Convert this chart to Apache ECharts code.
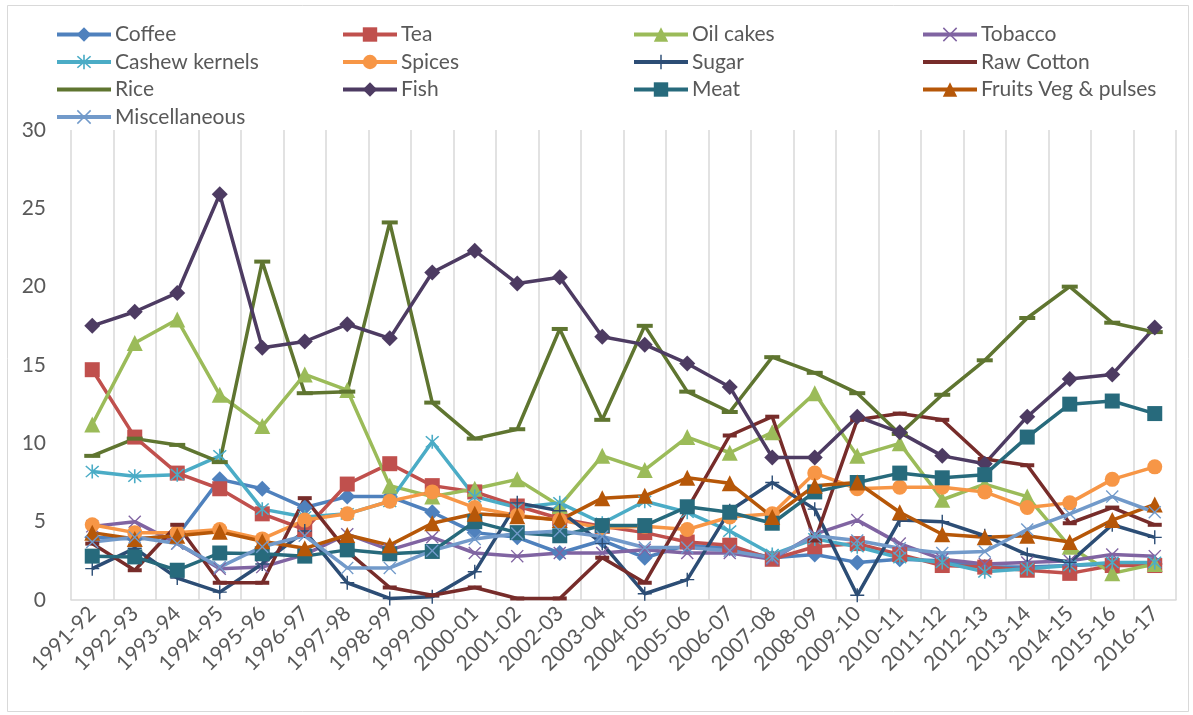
<!DOCTYPE html>
<html>
<head>
<meta charset="utf-8">
<script src="https://cdn.jsdelivr.net/npm/echarts@6/dist/echarts.min.js"></script>
<style>
  html, body { margin: 0; padding: 0; background: #fff; }
  #main { width: 1193px; height: 715px; }
</style>
</head>
<body>
<div id="main"></div>
<script>
// categories
let years = ["1991-92", "1992-93", "1993-94", "1994-95", "1995-96", "1996-97", "1997-98",
    "1998-99", "1999-00", "2000-01", "2001-02", "2002-03", "2003-04", "2004-05", "2005-06",
    "2006-07", "2007-08", "2008-09", "2009-10", "2010-11", "2011-12", "2012-13", "2013-14",
    "2014-15", "2015-16", "2016-17"];

// series values
let coffee = [4.0, 3.9, 4.1, 7.7, 7.1, 5.9, 6.6, 6.6, 5.6, 4.3, 4.0, 3.0, 3.8, 2.7, 3.5, 3.3, 2.7, 2.9, 2.4, 2.6, 2.5, 2.1, 2.1, 2.2, 2.3, 2.3];
let tea = [14.7, 10.4, 8.1, 7.1, 5.5, 4.5, 7.4, 8.7, 7.3, 6.9, 6.0, 5.2, 4.7, 4.3, 3.7, 3.5, 2.6, 3.4, 3.6, 2.9, 2.2, 2.1, 1.9, 1.7, 2.2, 2.2];
let oilCakes = [11.2, 16.4, 17.9, 13.1, 11.1, 14.4, 13.4, 7.3, 6.6, 7.1, 7.7, 6.0, 9.2, 8.3, 10.4, 9.4, 10.7, 13.2, 9.2, 10.0, 6.4, 7.4, 6.6, 3.4, 1.7, 2.3];
let tobacco = [4.7, 5.0, 3.6, 2.0, 2.1, 2.9, 4.2, 3.2, 4.0, 3.0, 2.8, 3.0, 3.0, 3.2, 3.0, 3.0, 2.6, 4.2, 5.1, 3.6, 2.6, 2.3, 2.4, 2.5, 2.9, 2.8];
let cashew = [8.2, 7.9, 8.0, 9.2, 5.8, 5.3, 5.5, 6.3, 10.1, 6.6, 5.9, 6.2, 4.9, 6.3, 5.6, 4.4, 2.9, 3.9, 3.4, 2.7, 2.4, 1.8, 2.0, 2.2, 2.4, 2.4];
let spices = [4.8, 4.3, 4.3, 4.5, 3.9, 5.1, 5.5, 6.3, 6.9, 5.9, 5.4, 5.1, 4.6, 4.7, 4.5, 5.3, 5.5, 8.1, 7.1, 7.2, 7.2, 6.9, 5.9, 6.2, 7.7, 8.5];
let sugar = [2.0, 3.3, 1.4, 0.5, 2.3, 4.4, 1.1, 0.1, 0.2, 1.8, 6.2, 5.7, 3.6, 0.4, 1.3, 5.7, 7.5, 5.8, 0.3, 5.1, 5.0, 4.1, 2.9, 2.4, 4.8, 4.0];
let rawCotton = [3.6, 1.9, 4.8, 1.1, 1.1, 6.5, 3.1, 0.8, 0.3, 0.8, 0.1, 0.1, 2.7, 1.1, 5.8, 10.5, 11.7, 3.8, 11.5, 11.9, 11.5, 9.0, 8.6, 4.9, 5.9, 4.8];
let rice = [9.2, 10.3, 9.9, 8.8, 21.6, 13.2, 13.3, 24.1, 12.6, 10.3, 10.9, 17.3, 11.5, 17.5, 13.3, 12.0, 15.5, 14.5, 13.2, 10.6, 13.1, 15.3, 18.0, 20.0, 17.7, 17.1];
let fish = [17.5, 18.4, 19.6, 25.9, 16.1, 16.5, 17.6, 16.7, 20.9, 22.3, 20.2, 20.6, 16.8, 16.3, 15.1, 13.6, 9.1, 9.1, 11.7, 10.7, 9.2, 8.7, 11.7, 14.1, 14.4, 17.4];
let meat = [2.8, 2.75, 1.9, 3.0, 2.95, 2.8, 3.2, 2.95, 3.1, 5.0, 4.3, 4.1, 4.75, 4.75, 5.95, 5.6, 4.9, 6.9, 7.5, 8.1, 7.8, 8.0, 10.4, 12.5, 12.7, 11.9];
let fruits = [4.3, 3.9, 4.1, 4.35, 3.75, 3.3, 4.15, 3.5, 4.9, 5.5, 5.35, 5.1, 6.5, 6.65, 7.8, 7.45, 5.3, 7.3, 7.5, 5.6, 4.2, 4.0, 4.1, 3.7, 5.1, 6.1];
let misc = [3.7, 4.0, 3.6, 2.1, 3.4, 4.1, 2.05, 2.05, 3.15, 3.9, 4.25, 4.4, 4.05, 3.35, 3.35, 3.15, 2.7, 4.1, 3.8, 3.3, 3.0, 3.1, 4.5, 5.5, 6.6, 5.6];

// excel-like marker shapes
let xMark = "path://M0,1.5L1.5,0L10,8.5L18.5,0L20,1.5L11.5,10L20,18.5L18.5,20L10,11.5L1.5,20L0,18.5L8.5,10Z";
let plusMark = "path://M9,0L11,0L11,9L20,9L20,11L11,11L11,20L9,20L9,11L0,11L0,9L9,9Z";
let starMark = "path://M9,0L11,0L11,20L9,20Z M2.7,1.3L18.7,17.3L17.3,18.7L1.3,2.7Z M18.7,2.7L2.7,18.7L1.3,17.3L17.3,1.3Z";
let barIcon = "path://M0,0L54,0L54,4L0,4Z";

let font = "Lato";
let gray = "#595959";

function makeSeries(name, data, color, symbol, size) {
    return {
        name: name,
        type: "line",
        data: data,
        symbol: symbol,
        symbolSize: size,
        showAllSymbol: true,
        lineStyle: { width: 3.5, color: color },
        itemStyle: { color: color, borderColor: color, borderWidth: 0 },
        emphasis: { disabled: true }
    };
}

let series = [
    makeSeries("Coffee", coffee, "#4F81BD", "diamond", 16),
    makeSeries("Tea", tea, "#C0504D", "rect", 15),
    makeSeries("Oil cakes", oilCakes, "#9BBB59", "triangle", 16),
    makeSeries("Tobacco", tobacco, "#8064A2", xMark, 13),
    makeSeries("Cashew kernels", cashew, "#4BACC6", starMark, 14),
    makeSeries("Spices", spices, "#F79646", "circle", 15),
    makeSeries("Sugar", sugar, "#2C4D75", plusMark, 14),
    makeSeries("Raw Cotton", rawCotton, "#772C2A", "rect", [14, 4]),
    makeSeries("Rice", rice, "#5F7530", "rect", [16, 4]),
    makeSeries("Fish", fish, "#4D3B62", "diamond", 16),
    makeSeries("Meat", meat, "#276A7C", "rect", 15),
    makeSeries("Fruits Veg & pulses", fruits, "#B65708", "triangle", 16),
    makeSeries("Miscellaneous", misc, "#729ACA", xMark, 13)
];

function makeLegend(left, names) {
    return {
        orient: "vertical",
        left: left,
        top: 24,
        padding: 0,
        itemWidth: 54,
        itemHeight: 18,
        itemGap: 6.5,
        selectedMode: false,
        lineStyle: { width: 4 },
        textStyle: { fontFamily: font, fontSize: 21, color: gray, lineHeight: 21, padding: [0, 0, 0, -1] },
        data: names.map((item) => {
            if (item === "Rice" || item === "Raw Cotton") {
                return { name: item, icon: barIcon };
            }
            return { name: item };
        })
    };
}

let myChart = echarts.init(document.getElementById("main"));

let option = {
    animation: false,
    backgroundColor: "#fff",
    graphic: [{
        type: "rect",
        shape: { x: 7.5, y: 5.5, width: 1181, height: 706 },
        style: { fill: "none", stroke: "#d9d9d9", lineWidth: 1 },
        silent: true
    }],
    legend: [
        makeLegend(55, ["Coffee", "Cashew kernels", "Rice", "Miscellaneous"]),
        makeLegend(341, ["Tea", "Spices", "Fish"]),
        makeLegend(632, ["Oil cakes", "Sugar", "Meat"]),
        makeLegend(921, ["Tobacco", "Raw Cotton", "Fruits Veg & pulses"])
    ],
    grid: { left: 71, right: 17, top: 130, bottom: 115, containLabel: false },
    xAxis: {
        type: "category",
        data: years,
        boundaryGap: true,
        axisLine: { lineStyle: { color: "#d9d9d9", width: 1.5 } },
        axisTick: { show: false },
        splitLine: { show: true, lineStyle: { color: "#d9d9d9", width: 1.5 } },
        axisLabel: { rotate: 45, margin: 10, interval: 0, fontFamily: font, fontSize: 21, color: gray }
    },
    yAxis: {
        type: "value",
        min: 0,
        max: 30,
        interval: 5,
        axisLine: { show: false },
        axisTick: { show: false },
        splitLine: { show: false },
        axisLabel: { margin: 25, fontFamily: font, fontSize: 21, color: gray }
    },
    series: series
};

myChart.setOption(option);
</script>
</body>
</html>
